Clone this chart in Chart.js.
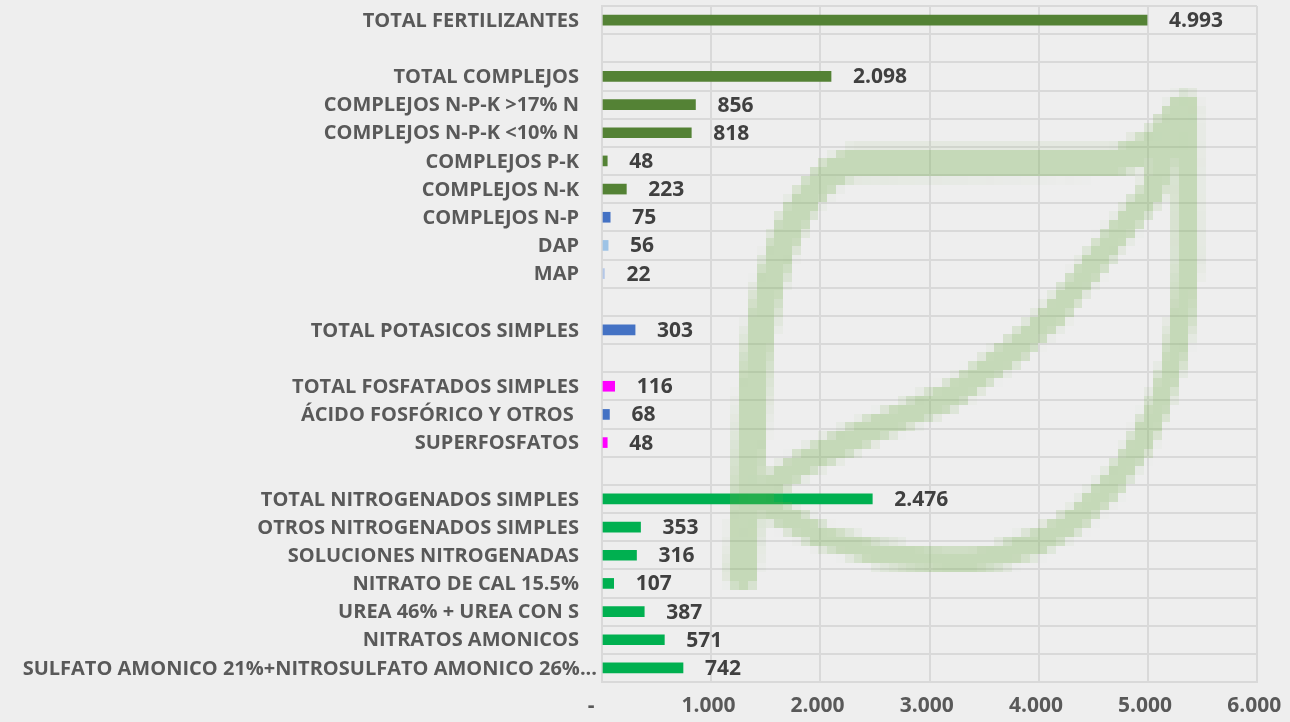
<!DOCTYPE html>
<html>
<head>
<meta charset="utf-8">
<script src="https://cdn.jsdelivr.net/npm/chart.js@4/dist/chart.umd.min.js"></script>
<style>
  html, body { margin: 0; padding: 0; background: #eeeeee; }
  canvas { display: block; }
</style>
</head>
<body>
<canvas id="c" width="1290" height="722" style="width:1290px;height:722px"></canvas>
<script>
const categories = [
  'TOTAL FERTILIZANTES', '',
  'TOTAL COMPLEJOS', 'COMPLEJOS N-P-K >17% N', 'COMPLEJOS N-P-K <10% N', 'COMPLEJOS P-K',
  'COMPLEJOS N-K', 'COMPLEJOS N-P', 'DAP', 'MAP', '',
  'TOTAL POTASICOS SIMPLES', '',
  'TOTAL FOSFATADOS SIMPLES', 'ÁCIDO FOSFÓRICO Y OTROS ', 'SUPERFOSFATOS', '',
  'TOTAL NITROGENADOS SIMPLES', 'OTROS NITROGENADOS SIMPLES', 'SOLUCIONES NITROGENADAS',
  'NITRATO DE CAL 15.5%', 'UREA 46% + UREA CON S', 'NITRATOS AMONICOS',
  'SULFATO AMONICO 21%+NITROSULFATO AMONICO 26%...'
];
const values = [
  4993, null,
  2098, 856, 818, 48,
  223, 75, 56, 22, null,
  303, null,
  116, 68, 48, null,
  2476, 353, 316,
  107, 387, 571,
  742
];
const barColors = [
  '#548235', null,
  '#548235', '#548235', '#548235', '#548235',
  '#548235', '#4472c4', '#9dc3e6', '#b4c7e7', null,
  '#4472c4', null,
  '#ff00ff', '#4472c4', '#ff00ff', null,
  '#00b050', '#00b050', '#00b050',
  '#00b050', '#00b050', '#00b050',
  '#00b050'
];
const xTicks = [0, 1000, 2000, 3000, 4000, 5000, 6000];

function fmt(v) {
  return String(Math.round(v)).replace(/\B(?=(\d{3})+(?!\d))/g, '.');
}

const FONT = '"Open Sans", Lato, sans-serif';

const bgPlugin = {
  id: 'bg',
  beforeDraw(chart) {
    const ctx = chart.ctx;
    ctx.save();
    ctx.fillStyle = '#eeeeee';
    ctx.fillRect(0, 0, chart.width, chart.height);
    ctx.restore();
  }
};

const leafPlugin = {
  id: 'leaf',
  afterDatasetsDraw(chart) {
    const k = 8.8;
    const off = document.createElement('canvas');
    off.width = Math.ceil(chart.width / k);
    off.height = Math.ceil(chart.height / k);
    const o = off.getContext('2d');
    o.scale(1 / k, 1 / k);
    o.strokeStyle = 'rgb(112,173,71)';
    o.lineCap = 'round';
    o.lineJoin = 'round';
    // left + top stroke
    o.lineWidth = 30;
    o.beginPath();
    o.moveTo(742, 575);
    o.lineTo(752, 420);
    o.bezierCurveTo(756, 330, 770, 200, 850, 163);
    o.lineTo(1120, 160);
    o.quadraticCurveTo(1160, 150, 1180, 112);
    o.stroke();
    // right + bottom stroke
    o.lineWidth = 24;
    o.beginPath();
    o.moveTo(1186, 104);
    o.lineTo(1187, 260);
    o.bezierCurveTo(1184, 400, 1120, 525, 1000, 556);
    o.bezierCurveTo(920, 570, 830, 552, 772, 510);
    o.stroke();
    // diagonal
    o.lineWidth = 26;
    o.beginPath();
    o.moveTo(1180, 112);
    const pts = [[1153,190],[1103,252],[1053,315],[1020,345],[953,395],[870,430],[803,463],[762,492],[742,520]];
    pts.forEach(p => o.lineTo(p[0], p[1]));
    o.stroke();

    const ctx = chart.ctx;
    ctx.save();
    ctx.globalAlpha = 0.32;
    ctx.imageSmoothingEnabled = false;
    ctx.drawImage(off, 0, 0, off.width * k, off.height * k);
    ctx.restore();
  }
};

const labelsPlugin = {
  id: 'labels',
  afterDraw(chart) {
    const ctx = chart.ctx;
    const ys = chart.scales.y;
    const meta = chart.getDatasetMeta(0);
    ctx.save();
    // category labels
    ctx.font = 'bold 20px ' + FONT;
    ctx.fillStyle = '#595959';
    ctx.textAlign = 'right';
    ctx.textBaseline = 'middle';
    categories.forEach((t, i) => {
      if (!t) return;
      const w = ctx.measureText(t).width;
      const x = w > 560 ? 597 : 579;
      ctx.fillText(t, x, ys.getPixelForValue(i) + 1);
    });
    // value labels
    ctx.font = 'bold 21px ' + FONT;
    ctx.fillStyle = '#404040';
    ctx.textAlign = 'left';
    meta.data.forEach((el, i) => {
      const v = values[i];
      if (v === null || v === undefined) return;
      ctx.fillText(fmt(v), el.x + 22, el.y + 1);
    });
    ctx.restore();
  }
};

new Chart(document.getElementById('c'), {
  type: 'bar',
  data: {
    labels: categories,
    datasets: [{
      data: values,
      backgroundColor: barColors,
      barThickness: 10,
      borderWidth: 0
    }]
  },
  options: {
    indexAxis: 'y',
    responsive: false,
    animation: false,
    devicePixelRatio: 1,
    layout: { padding: { top: 6, right: 33, left: 0, bottom: 0 } },
    plugins: {
      legend: { display: false },
      tooltip: { enabled: false },
      title: { display: false }
    },
    scales: {
      x: {
        type: 'linear',
        min: 0,
        max: 6000,
        afterBuildTicks(s) { s.ticks = xTicks.map(v => ({ value: v })); },
        afterFit(s) { s.height = 40; s.paddingLeft = 0; s.paddingRight = 0; },
        grid: { color: '#d9d9d9', lineWidth: 2, drawTicks: false },
        border: { color: '#d9d9d9', width: 2 },
        ticks: {
          padding: 11,
          color: '#595959',
          font: { family: FONT, size: 21, weight: 'bold' },
          callback: v => (v === 0 ? '-    ' : fmt(v) + ' ')
        }
      },
      y: {
        type: 'category',
        afterFit(s) { s.width = 602; s.paddingTop = 0; s.paddingBottom = 0; },
        grid: { color: '#d9d9d9', lineWidth: 2, offset: true, drawTicks: false },
        border: { color: '#d9d9d9', width: 2 },
        ticks: { display: false }
      }
    }
  },
  plugins: [bgPlugin, leafPlugin, labelsPlugin]
});
</script>
</body>
</html>
